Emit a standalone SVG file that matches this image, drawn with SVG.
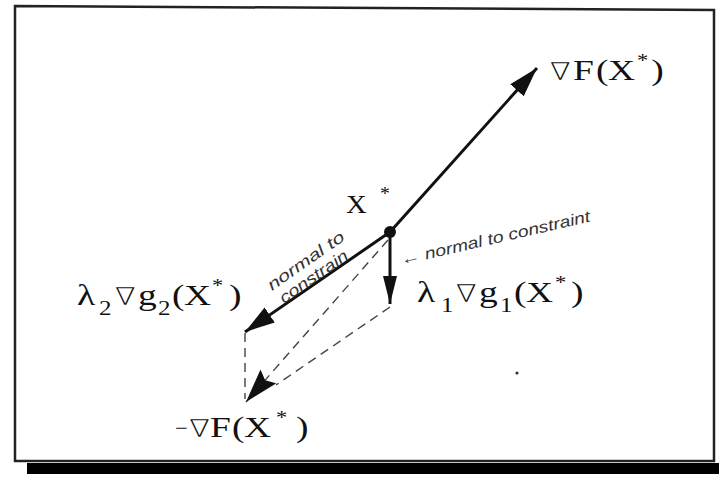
<svg xmlns="http://www.w3.org/2000/svg" width="719" height="477" viewBox="0 0 719 477">
<style>
.m{font-family:"Liberation Serif","DejaVu Serif",serif;font-size:30px;fill:#111}
.nb{font-family:"DejaVu Sans","Liberation Serif",serif;font-size:24px;font-weight:200}
.sup{font-size:18px}
.sub{font-size:20px}
.hw{font-family:"Liberation Sans","DejaVu Sans",sans-serif;font-style:italic;font-size:16px;fill:#333}
.vec{stroke:#111;stroke-width:3;fill:none}
.dash{stroke:#444;stroke-width:1.4;fill:none;stroke-dasharray:9 6}
.frame{stroke:#222;stroke-width:2.5;fill:none}
</style>
<defs>
<marker id="ah" markerUnits="userSpaceOnUse" markerWidth="34" markerHeight="20" refX="30" refY="9" orient="auto">
<path d="M0,0 L30,9 L0,18 z" fill="#111"/>
</marker>
<marker id="ahs" markerUnits="userSpaceOnUse" markerWidth="34" markerHeight="16" refX="28" refY="7" orient="auto">
<path d="M0,0 L28,7 L0,14 z" fill="#111"/>
</marker>
<marker id="ahl" markerUnits="userSpaceOnUse" markerWidth="38" markerHeight="22" refX="34" refY="10.5" orient="auto">
<path d="M0,0 L34,10.5 L0,21 L5,10.5 z" fill="#111"/>
</marker>
</defs>

<g id="frame">
<rect x="27" y="463" width="692" height="11" fill="#000"/>
<path class="frame" d="M15,6 L714,10 L714,461 L15,461 Z"/>
</g>

<g id="connectors">
<line id="gradF" class="vec" x1="390" y1="232" x2="537" y2="68" marker-end="url(#ah)"/>
<line id="lam2" class="vec" x1="390" y1="232" x2="245" y2="332" marker-end="url(#ah)"/>
<line id="lam1" class="vec" x1="390" y1="236" x2="390" y2="304" marker-end="url(#ahs)"/>
<line id="negF" class="dash" x1="388" y1="240" x2="246" y2="402" marker-end="url(#ahl)"/>
<line class="dash" x1="390" y1="307" x2="276" y2="385"/>
<line class="dash" x1="245" y1="333" x2="245" y2="399"/>
</g>

<g id="xstar">
<circle cx="390" cy="232" r="6" fill="#111"/>
<text class="m" style="font-size:26px" transform="translate(346,213) scale(1.1,1)"><tspan x="0">X</tspan><tspan class="sup" x="31" y="-13">*</tspan></text>
</g>

<g id="gradF-label">
<text class="m" transform="translate(550,80) scale(1.25,1)"><tspan class="nb" x="0">∇</tspan><tspan x="18.4 36.8 46.4">F(X</tspan><tspan class="sup" x="69.6" y="-13">*</tspan><tspan x="81" y="0">)</tspan></text>
</g>

<g id="lam2-label">
<text class="m" transform="translate(77,305) scale(1.25,1)"><tspan x="0">λ</tspan><tspan class="sub" x="17.6" y="10">2</tspan><tspan class="nb" x="30.4" y="0">∇</tspan><tspan x="48.8">g</tspan><tspan class="sub" x="64.8" y="10">2</tspan><tspan x="76 85.6" y="0">(X</tspan><tspan class="sup" x="108" y="-13">*</tspan><tspan x="121.6" y="0">)</tspan></text>
</g>

<g id="lam1-label">
<text class="m" transform="translate(417,302) scale(1.25,1)"><tspan x="0">λ</tspan><tspan class="sub" x="19.2" y="10">1</tspan><tspan class="nb" x="31.2" y="0">∇</tspan><tspan x="49.6">g</tspan><tspan class="sub" x="66.4" y="10">1</tspan><tspan x="77.6 87.2" y="0">(X</tspan><tspan class="sup" x="110.4" y="-13">*</tspan><tspan x="123.2" y="0">)</tspan></text>
</g>

<g id="negF-label">
<text class="m" transform="translate(175,437) scale(1.25,1)"><tspan style="font-size:18px" x="0" y="-3">−</tspan><tspan class="nb" x="11.5" y="0">∇</tspan><tspan x="28 45.6 55.2">F(X</tspan><tspan class="sup" x="80.8" y="-13">*</tspan><tspan x="96.8" y="0">)</tspan></text>
</g>

<g id="notes">
<text class="hw" transform="translate(272,291) rotate(-35)" textLength="90" lengthAdjust="spacingAndGlyphs">normal to</text>
<text class="hw" transform="translate(284,304) rotate(-35)" textLength="80" lengthAdjust="spacingAndGlyphs">constrain</text>
<text class="hw" transform="translate(402,265) rotate(-13)" textLength="194" lengthAdjust="spacingAndGlyphs">← normal to constraint</text>
</g>

<circle cx="517" cy="373" r="1.6" fill="#333"/>
</svg>
